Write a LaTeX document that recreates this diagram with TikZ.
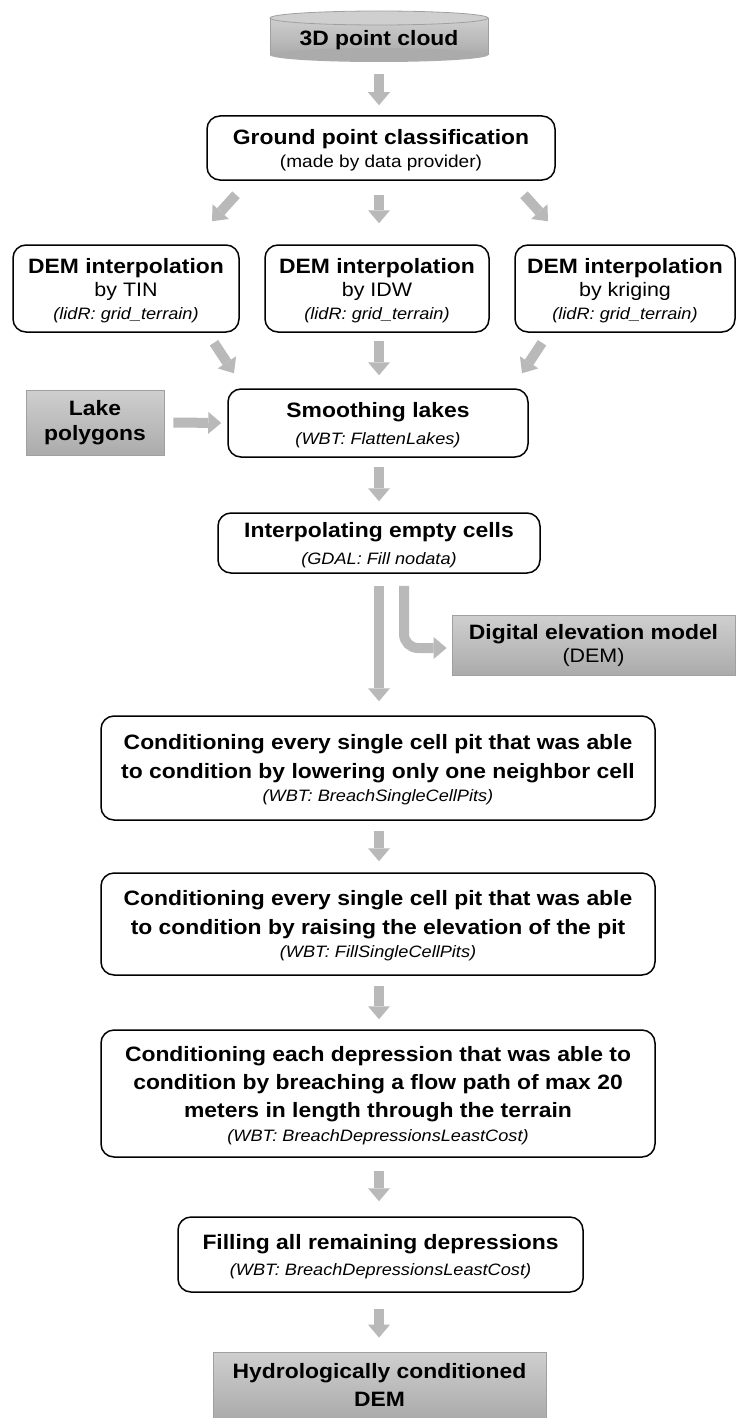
\documentclass[tikz,border=0pt]{standalone}
\usepackage{fontspec}
\setmainfont{Liberation Sans}[FakeStretch=1.1]
\usetikzlibrary{arrows.meta,calc}
\definecolor{arrowgray}{HTML}{B9B9B9}
\definecolor{boxtop}{HTML}{CFCFCF}
\definecolor{boxbot}{HTML}{ABABAB}
\definecolor{boxline}{HTML}{A0A0A0}
\newcommand\fHd{\fontsize{20.8}{26}\selectfont\bfseries}
\newcommand\fRg{\fontsize{19.5}{24}\selectfont}
\newcommand\fSm{\fontsize{17.3}{24}\selectfont}
\newcommand\fIt{\fontsize{16.5}{24}\selectfont\itshape}
\tikzset{
  flowbox/.style={draw=black, line width=1.5pt, rounded corners=13pt, align=center,
    inner sep=0pt, text depth=0pt, font=\fontsize{20.8}{26}\selectfont},
  graybox/.style={draw=boxline, line width=0.8pt, top color=boxtop, bottom color=boxbot,
    align=center, inner sep=0pt, font=\fontsize{20.8}{26}\selectfont},
  blk/.style={draw=arrowgray, line width=10pt,
    -{Triangle[width=22pt,length=13pt,line width=0pt]}},
}
\begin{document}
\begin{tikzpicture}[x=1pt,y=-1pt]
\useasboundingbox (0,0) rectangle (737,1418);
% cylinder
\fill[top color=boxtop, bottom color=boxbot] (270,18) rectangle (488,55);
\fill[boxbot] (379,55) ellipse [x radius=109, y radius=7];
\draw[boxline, line width=0.6pt] (270,18) -- (270,55) (488,18) -- (488,55);
\draw[boxline, line width=0.8pt, fill=boxtop] (379,18) ellipse [x radius=109, y radius=7];
\node[inner sep=0pt, minimum width=218pt, minimum height=44pt, font=\fHd] (pc) at (379,40) {3D point cloud};

\node[flowbox, minimum width=348pt, minimum height=64pt] (gp) at (381,148)
  {{\fHd Ground point classification}\\[-3pt]{\fSm (made by data provider)}};

\node[flowbox, minimum width=226pt, minimum height=87pt] (dem1) at (126,288.5)
  {{\fHd DEM interpolation}\\[-3pt]{\fRg by TIN}\\[-3pt]{\fIt (lidR: grid\_terrain)}};
\node[flowbox, minimum width=224pt, minimum height=87pt] (dem2) at (377,288.5)
  {{\fHd DEM interpolation}\\[-3pt]{\fRg by IDW}\\[-3pt]{\fIt (lidR: grid\_terrain)}};
\node[flowbox, minimum width=220pt, minimum height=87pt] (dem3) at (625,288.5)
  {{\fHd DEM interpolation}\\[-3pt]{\fRg by kriging}\\[-3pt]{\fIt (lidR: grid\_terrain)}};

\node[graybox, minimum width=138pt, minimum height=65pt] (lake) at (95,422.5)
  {{\fHd Lake}\\[-1pt]{\fHd polygons}};
\node[flowbox, minimum width=300pt, minimum height=68pt] (sm) at (378,423)
  {{\fHd Smoothing lakes}\\[1pt]{\fIt (WBT: FlattenLakes)}};

\node[flowbox, minimum width=322pt, minimum height=60pt] (ie) at (379,543)
  {{\fHd Interpolating empty cells}\\[1pt]{\fIt (GDAL: Fill nodata)}};

\node[graybox, minimum width=283pt, minimum height=60pt] (dem) at (593.5,645)
  {{\fHd Digital elevation model}\\[-3pt]{\fRg (DEM)}};

\node[flowbox, minimum width=554pt, minimum height=104pt] (c1) at (378,768)
  {{\fHd Conditioning every single cell pit that was able}\\[3pt]
   {\fHd to condition by lowering only one neighbor cell}\\[-3pt]
   {\fIt (WBT: BreachSingleCellPits)}};
\node[flowbox, minimum width=554pt, minimum height=102pt] (c2) at (378,924)
  {{\fHd Conditioning every single cell pit that was able}\\[3pt]
   {\fHd to condition by raising the elevation of the pit}\\[-3pt]
   {\fIt (WBT: FillSingleCellPits)}};
\node[flowbox, minimum width=554pt, minimum height=127pt] (c3) at (378,1093.5)
  {{\fHd Conditioning each depression that was able to}\\[2pt]
   {\fHd condition by breaching a flow path of max 20}\\[2pt]
   {\fHd meters in length through the terrain}\\[-2pt]
   {\fIt (WBT: BreachDepressionsLeastCost)}};
\node[flowbox, minimum width=405pt, minimum height=75pt] (fill) at (380.5,1254.5)
  {{\fHd Filling all remaining depressions}\\[0pt]{\fIt (WBT: BreachDepressionsLeastCost)}};
\node[graybox, minimum width=333pt, minimum height=66pt] (hyd) at (379.5,1385)
  {{\fHd Hydrologically conditioned}\\[2pt]{\fHd DEM}};

% arrows
\draw[blk] ($(pc.south)+(0,12)$) -- ($(gp.north)+(-2,-10)$);
\draw[blk] ($(gp.south)+(-145,14)$) -- ($(dem1.north)+(86,-23)$);
\draw[blk] ($(gp.south)+(-2,14)$) -- ($(dem2.north)+(2,-21)$);
\draw[blk] ($(gp.south)+(143,14)$) -- ($(dem3.north)+(-77,-23)$);
\draw[blk] ($(dem1.south)+(88,10)$) -- ($(sm.north)+(-144,-15)$);
\draw[blk] ($(dem2.south)+(2,8)$) -- ($(sm.north)+(1,-13)$);
\draw[blk] ($(dem3.south)+(-83,10)$) -- ($(sm.north)+(144,-15)$);
\draw[blk] ($(lake.east)+(9,0)$) -- ($(sm.west)+(-6,0)$);
\draw[blk] ($(sm.south)+(1,9)$) -- ($(ie.north)+(0,-11)$);
\draw[blk] ($(ie.south)+(0,12)$) -- ($(c1.north)+(1,-14)$);
\draw[blk, rounded corners=14pt] ($(ie.south)+(25,12)$) |- ($(dem.west)+(-5,3)$);
\draw[blk] ($(c1.south)+(1,10)$) -- ($(c2.north)+(1,-11)$);
\draw[blk] ($(c2.south)+(1,10)$) -- ($(c3.north)+(1,-10)$);
\draw[blk] ($(c3.south)+(1,13)$) -- ($(fill.north)+(-1.5,-15)$);
\draw[blk] ($(fill.south)+(-1.5,16)$) -- ($(hyd.north)+(-0.5,-14)$);
\end{tikzpicture}
\end{document}
